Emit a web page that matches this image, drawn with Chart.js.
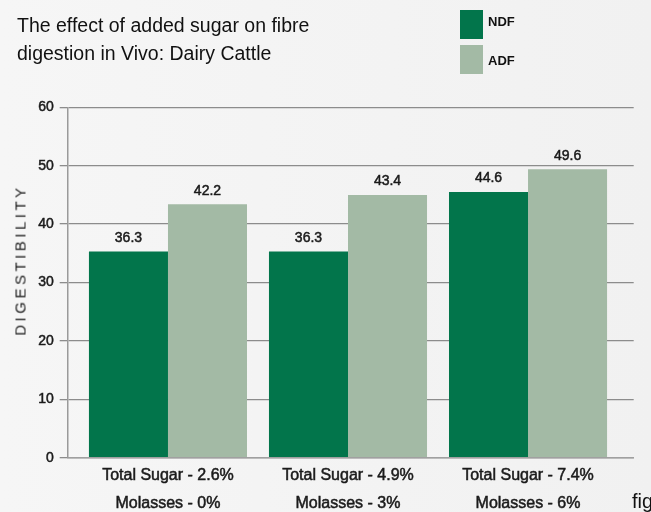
<!DOCTYPE html>
<html>
<head>
<meta charset="utf-8">
<script src="https://cdn.jsdelivr.net/npm/chart.js@4.4.1/dist/chart.umd.min.js"></script>
<style>
  html, body { margin: 0; padding: 0; }
  body {
    width: 651px; height: 512px; overflow: hidden; position: relative;
    background: linear-gradient(90deg, #f6f6f6 0%, #f3f3f3 60%, #f1f1f1 100%);
    font-family: "Liberation Sans", Arial, sans-serif;
  }
  #wrap { position: absolute; left: 0; top: 0; width: 651px; height: 512px; }
  #title {
    position: absolute; left: 17px; top: 11px;
    font-size: 19.5px; line-height: 28px; color: #111;
  }
  .box { position: absolute; left: 460px; width: 23px; height: 29px; }
  .ltxt { position: absolute; left: 488px; font-size: 13px; font-weight: bold; color: #111; line-height: 16px; }
  #ytitle {
    position: absolute; left: 20px; top: 260px;
    transform: translate(-50%, -50%) rotate(-90deg);
    font-size: 15px; letter-spacing: 3.5px; color: #222; white-space: nowrap;
  }
  #fig { position: absolute; left: 632px; top: 491px; font-size: 20px; line-height: 20px; color: #111; white-space: nowrap; }
</style>
</head>
<body>
<div id="wrap"><canvas id="c" width="651" height="512"></canvas></div>
<div id="title">The effect of added sugar on fibre<br>digestion in Vivo: Dairy Cattle</div>
<div class="box" style="top:10px;background:#02754B"></div>
<div class="ltxt" style="top:14px">NDF</div>
<div class="box" style="top:45px;background:#A3BAA5"></div>
<div class="ltxt" style="top:53px">ADF</div>
<div id="ytitle">DIGESTIBILITY</div>
<div id="fig">fig</div>
<script>
// ---- data ----
const sugarLabels = ['Total Sugar - 2.6%', 'Total Sugar - 4.9%', 'Total Sugar - 7.4%'];
const molassesLabels = ['Molasses - 0%', 'Molasses - 3%', 'Molasses - 6%'];
const seriesNames = ['NDF', 'ADF'];
const ndfValues = [35.3, 35.3, 45.5];   // bar heights as drawn
const adfValues = [43.4, 45.0, 49.4];
const ndfLabels = ['36.3', '36.3', '44.6']; // printed value labels
const adfLabels = ['42.2', '43.4', '49.6'];
const yTicks = [0, 10, 20, 30, 40, 50, 60];

const barLabels = [ndfLabels, adfLabels];

const valueLabelPlugin = {
  id: 'valueLabels',
  afterDatasetsDraw(chart) {
    const ctx = chart.ctx;
    ctx.save();
    ctx.font = '14px "Liberation Sans", Arial, sans-serif';
    ctx.fillStyle = '#1a1a1a';
    ctx.strokeStyle = '#1a1a1a';
    ctx.lineWidth = 0.5;
    ctx.textAlign = 'center';
    ctx.textBaseline = 'middle';
    chart.data.datasets.forEach((ds, di) => {
      const meta = chart.getDatasetMeta(di);
      meta.data.forEach((bar, i) => {
        ctx.fillText(barLabels[di][i], bar.x, bar.y - 13.5);
        ctx.strokeText(barLabels[di][i], bar.x, bar.y - 13.5);
      });
    });
    ctx.restore();
  }
};

new Chart(document.getElementById('c'), {
  type: 'bar',
  data: {
    datasets: [
      { label: seriesNames[0], data: ndfValues.map((y, i) => ({ x: i, y })), backgroundColor: '#02754B' },
      { label: seriesNames[1], data: adfValues.map((y, i) => ({ x: i, y })), backgroundColor: '#A3BAA5' }
    ]
  },
  options: {
    responsive: false,
    animation: false,
    devicePixelRatio: 1,
    layout: { padding: { left: 0, right: 17.3, top: 107.3, bottom: 0 } },
    datasets: { bar: { categoryPercentage: 0.878, barPercentage: 1.0 } },
    plugins: { legend: { display: false }, tooltip: { enabled: false }, title: { display: false } },
    scales: {
      x: {
        type: 'linear',
        offset: false,
        bounds: 'data',
        min: -0.557,
        max: 2.587,
        afterBuildTicks: (s) => { s.ticks = sugarLabels.map((_, i) => ({ value: i })); },
        afterFit: (s) => { s.height = 54.3; },
        ticks: {
          autoSkip: false, maxRotation: 0, minRotation: 0, padding: 4,
          color: '#1a1a1a', textStrokeColor: '#1a1a1a', textStrokeWidth: 0.5,
          font: { family: '"Liberation Sans", Arial, sans-serif', size: 16, lineHeight: 1.73 },
          callback: (v) => [sugarLabels[v], molassesLabels[v]]
        },
        grid: { display: false, drawTicks: false, offset: false },
        border: { display: true, color: '#a0a0a0', width: 1.5 }
      },
      y: {
        min: 0, max: 60,
        afterBuildTicks: (s) => { s.ticks = yTicks.map(v => ({ value: v })); },
        afterFit: (s) => { s.width = 67.7; },
        ticks: {
          padding: 6, color: '#1a1a1a', textStrokeColor: '#1a1a1a', textStrokeWidth: 0.5,
          font: { family: '"Liberation Sans", Arial, sans-serif', size: 14 }
        },
        grid: { color: '#8c8c8c', lineWidth: 1.3, tickLength: 8, drawTicks: true },
        border: { display: true, color: '#9a9a9a', width: 1.5 }
      }
    }
  },
  plugins: [valueLabelPlugin]
});
</script>
</body>
</html>
